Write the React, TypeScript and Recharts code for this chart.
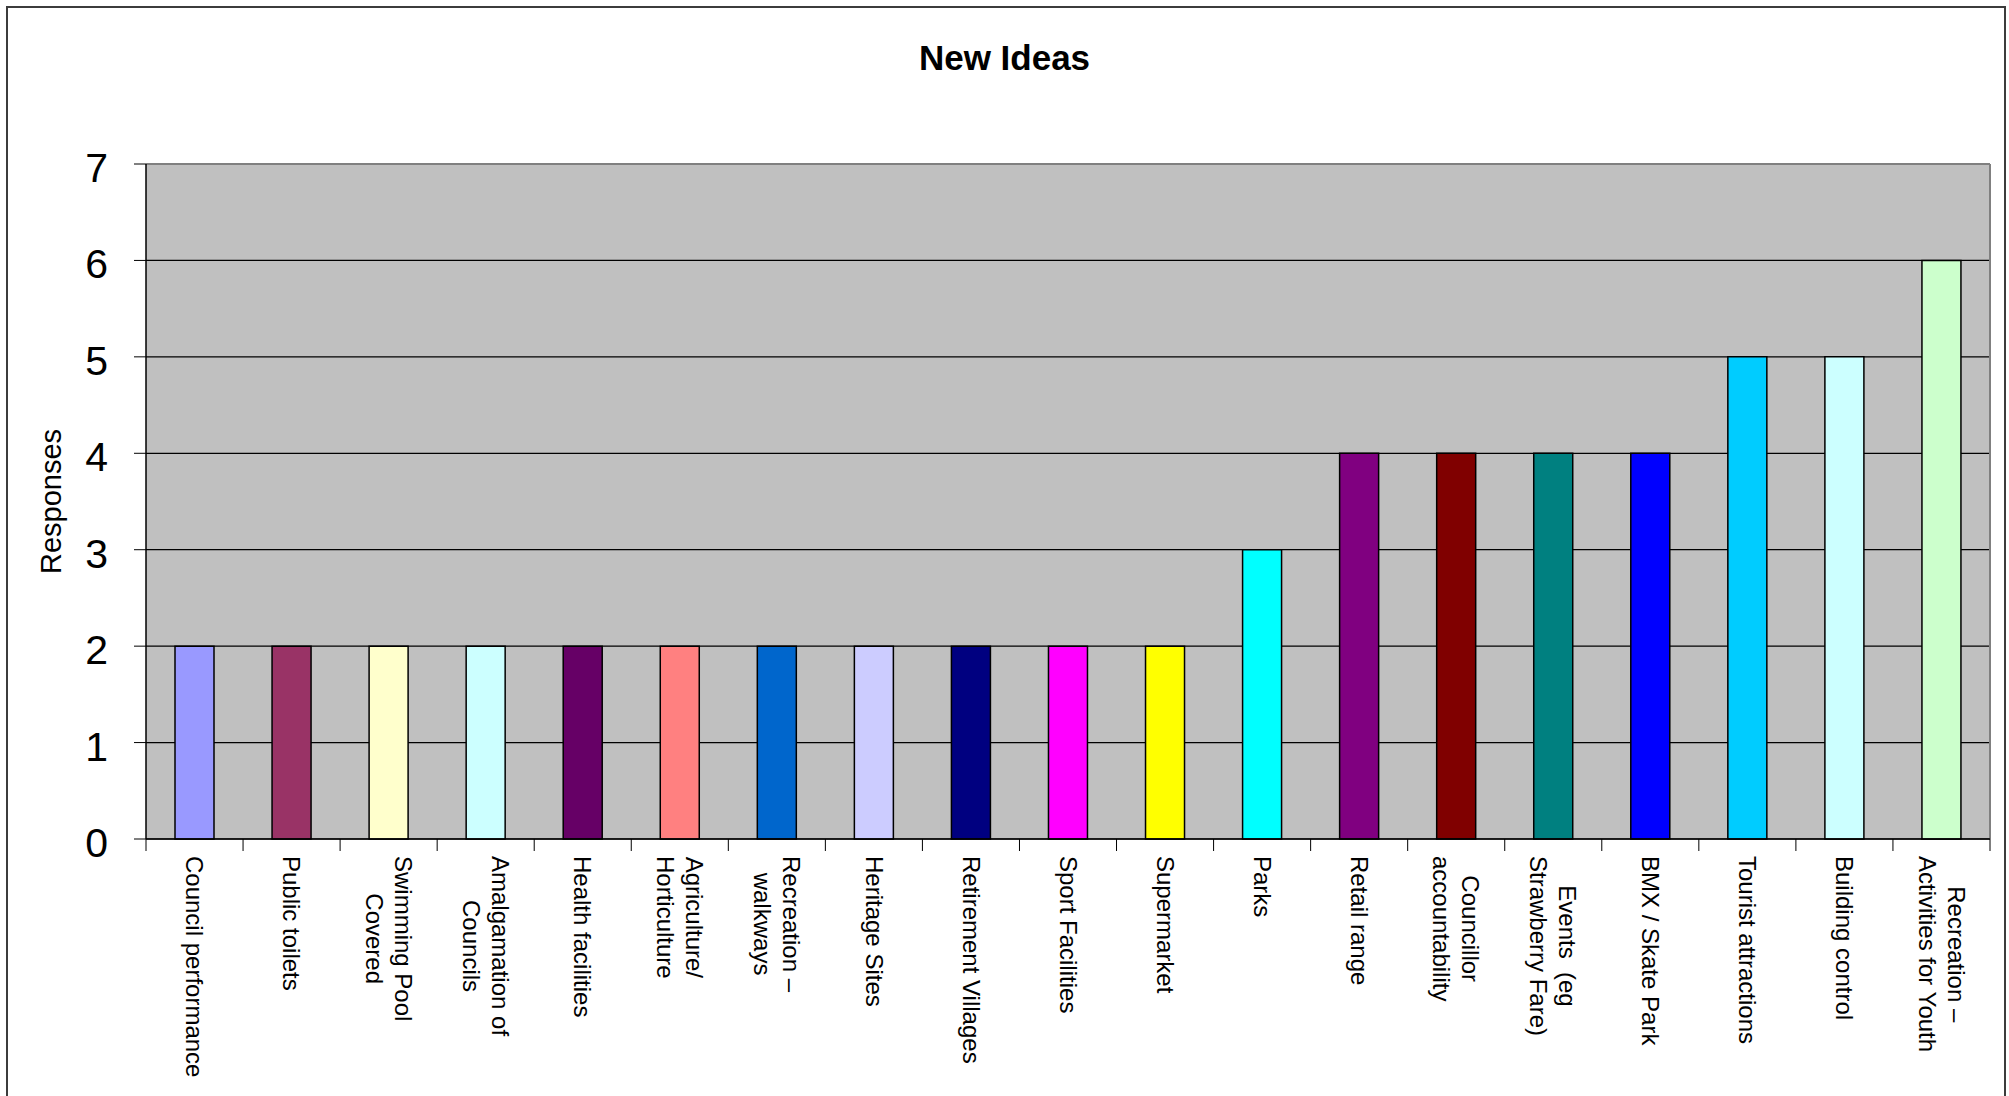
import React from "react";
import {
  BarChart,
  Bar,
  XAxis,
  YAxis,
  CartesianGrid,
  Cell,
  ReferenceLine,
  Label,
} from "recharts";

const categories = [
  "Council performance",
  "Public toilets",
  "Swimming Pool\nCovered",
  "Amalgamation of\nCouncils",
  "Health facilities",
  "Agriculture/\nHorticulture",
  "Recreation –\nwalkways",
  "Heritage Sites",
  "Retirement Villages",
  "Sport Facilities",
  "Supermarket",
  "Parks",
  "Retail range",
  "Councillor\naccountability",
  "Events  (eg\nStrawberry Fare)",
  "BMX / Skate Park",
  "Tourist attractions",
  "Building control",
  "Recreation –\nActivities for Youth",
];

const responses = [2, 2, 2, 2, 2, 2, 2, 2, 2, 2, 2, 3, 4, 4, 4, 4, 5, 5, 6];

const barColors = [
  "#9999FF", "#993366", "#FFFFCC", "#CCFFFF", "#660066",
  "#FF8080", "#0066CC", "#CCCCFF", "#000080", "#FF00FF",
  "#FFFF00", "#00FFFF", "#800080", "#800000", "#008080",
  "#0000FF", "#00CCFF", "#CCFFFF", "#CCFFCC",
];

const yTicks = [0, 1, 2, 3, 4, 5, 6, 7];

const W = 2009;
const H = 1096;
const PLOT_LEFT = 146;
const PLOT_RIGHT = 1990;
const PLOT_TOP = 164;
const PLOT_BOTTOM = 839;
const BAND = (PLOT_RIGHT - PLOT_LEFT) / categories.length;
const FONT = "Arial, 'Liberation Sans', sans-serif";
const X_FS = 24;
const X_LH = 29;

let ctx: CanvasRenderingContext2D | null = null;
function measure(s: string) {
  if (!ctx) {
    ctx = document.createElement("canvas").getContext("2d");
  }
  if (!ctx) return s.length * X_FS * 0.5;
  ctx.font = `${X_FS}px Arial, 'Liberation Sans', sans-serif`;
  return ctx.measureText(s).width;
}

function XTick(props: any) {
  const { x, y, payload, index } = props;
  const lines = String(payload.value).split("\n");
  const widths = lines.map(measure);
  const maxW = Math.max(...widths);
  const cy = y + 17;
  const b0 = 0.35 * X_FS - ((lines.length - 1) * X_LH) / 2;
  return (
    <g>
      <line x1={x - BAND / 2} x2={x - BAND / 2} y1={y} y2={y + 12} stroke="#000" />
      {index === categories.length - 1 && (
        <line x1={x + BAND / 2} x2={x + BAND / 2} y1={y} y2={y + 12} stroke="#000" />
      )}
      <text
        transform={`rotate(90, ${x}, ${cy})`}
        fontSize={X_FS}
        fontFamily={FONT}
        fill="#000"
        style={{ whiteSpace: "pre" }}
      >
        {lines.map((ln, i) => (
          <tspan key={i} x={x + (maxW - widths[i]) / 2} y={cy + b0 + i * X_LH}>
            {ln}
          </tspan>
        ))}
      </text>
    </g>
  );
}

function YTick(props: any) {
  const { x, y, payload } = props;
  return (
    <text
      x={x}
      y={y + 4}
      textAnchor="end"
      dominantBaseline="central"
      fontSize={41}
      fontFamily={FONT}
      fill="#000"
    >
      {payload.value}
    </text>
  );
}

export default function App() {
  const data = categories.map((name, i) => ({ name, value: responses[i] }));

  return (
    <div
      style={{
        position: "absolute",
        left: 0,
        top: 0,
        width: W,
        height: H,
        background: "#fff",
        overflow: "hidden",
        fontFamily: FONT,
      }}
    >
      <div
        style={{
          position: "absolute",
          left: 6,
          top: 6,
          width: 2000,
          height: 1200,
          border: "2px solid #3c3c3c",
          boxSizing: "border-box",
        }}
      />
      <div
        style={{
          position: "absolute",
          left: 0,
          top: 38,
          width: W,
          textAlign: "center",
          fontSize: 35,
          fontWeight: 700,
          lineHeight: "40px",
          color: "#000",
        }}
      >
        New Ideas
      </div>
      <div style={{ position: "absolute", left: 0, top: 0 }}>
        <BarChart
          width={W}
          height={H}
          data={data}
          margin={{ top: PLOT_TOP, right: W - PLOT_RIGHT, left: 10, bottom: 0 }}
        >
          <CartesianGrid vertical={false} fill="#C0C0C0" stroke="#000" strokeWidth={1.2} />
          <CartesianGrid
            horizontal={false}
            verticalCoordinatesGenerator={() => [PLOT_RIGHT]}
            stroke="#808080"
            strokeWidth={2}
          />
          <XAxis
            dataKey="name"
            interval={0}
            height={H - PLOT_BOTTOM}
            tickLine={false}
            tickSize={0}
            tickMargin={0}
            axisLine={{ stroke: "#000", strokeWidth: 1.5 }}
            tick={<XTick />}
          />
          <YAxis
            width={PLOT_LEFT - 10}
            domain={[0, 7]}
            ticks={yTicks}
            interval={0}
            tickSize={12}
            tickMargin={26}
            tickLine={{ stroke: "#000" }}
            axisLine={{ stroke: "#000", strokeWidth: 1.5 }}
            tick={<YTick />}
          >
            <Label
              content={() => (
                <text
                  x={51}
                  y={(PLOT_TOP + PLOT_BOTTOM) / 2}
                  transform={`rotate(-90, 51, ${(PLOT_TOP + PLOT_BOTTOM) / 2})`}
                  textAnchor="middle"
                  dominantBaseline="central"
                  fontSize={29}
                  fontFamily={FONT}
                  fill="#000"
                >
                  Responses
                </text>
              )}
            />
          </YAxis>
          <ReferenceLine y={7} stroke="#808080" strokeWidth={2} />
          <Bar
            dataKey="value"
            barSize={39}
            stroke="#000"
            strokeWidth={1.5}
            isAnimationActive={false}
          >
            {data.map((_, i) => (
              <Cell key={i} fill={barColors[i]} />
            ))}
          </Bar>
        </BarChart>
      </div>
    </div>
  );
}
